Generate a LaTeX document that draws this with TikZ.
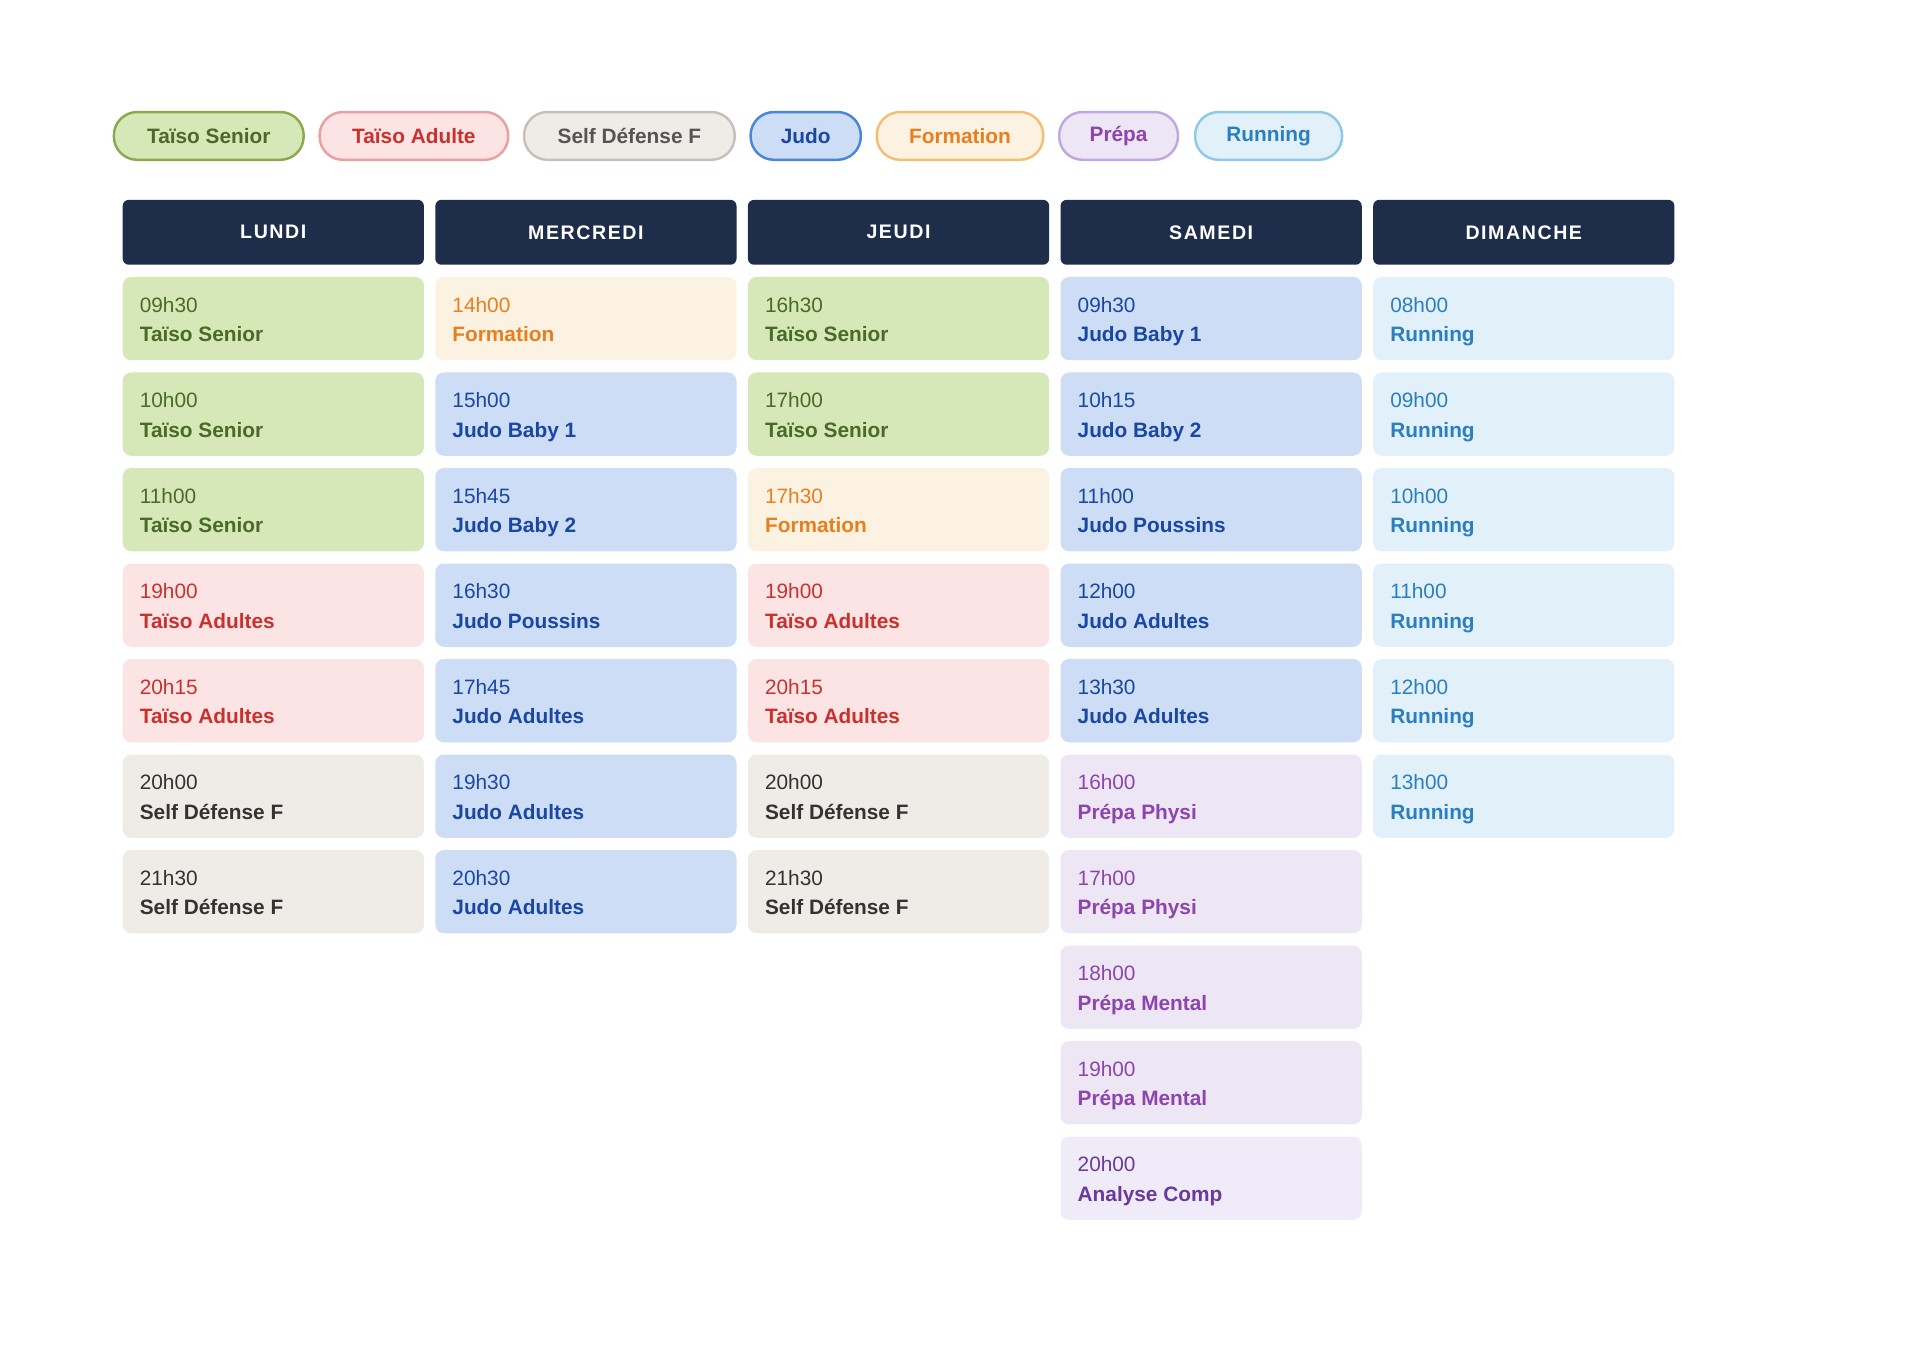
\documentclass[tikz,border=0pt]{standalone}
\usepackage{fontspec}
\setmainfont{Liberation Sans}
\begin{document}
\definecolor{hdr}{HTML}{1E2D4A}
\definecolor{gF}{HTML}{D6E7B8}\definecolor{gT}{HTML}{4B6A2A}\definecolor{gB}{HTML}{8AAA4E}
\definecolor{pF}{HTML}{FCE4E4}\definecolor{pT}{HTML}{C8322E}\definecolor{pB}{HTML}{E8A0A0}
\definecolor{sF}{HTML}{EFECE8}\definecolor{sT}{HTML}{333333}\definecolor{sB}{HTML}{C8C0B8}\definecolor{sL}{HTML}{555555}
\definecolor{bF}{HTML}{CCDDF5}\definecolor{bT}{HTML}{1A47A0}\definecolor{bB}{HTML}{4A86D8}
\definecolor{oF}{HTML}{FCF2E2}\definecolor{oT}{HTML}{E87F1E}\definecolor{oB}{HTML}{F2C070}
\definecolor{vF}{HTML}{ECE6F5}\definecolor{vT}{HTML}{8E44AD}\definecolor{vB}{HTML}{C0A8E0}
\definecolor{aF}{HTML}{EFEBF8}\definecolor{aT}{HTML}{6A3A9A}
\definecolor{lF}{HTML}{E2F0FA}\definecolor{lT}{HTML}{2A7FC0}\definecolor{lB}{HTML}{90C8E8}
\begin{tikzpicture}[x=1pt,y=-1pt,
  pill/.style={draw,line width=2pt,rounded corners=19pt,minimum height=39pt,inner sep=0pt,font=\fontsize{17}{20}\selectfont\bfseries,anchor=west},
  hd/.style={fill=hdr,rounded corners=5pt,minimum width=246pt,minimum height=53pt,inner sep=0pt,text=white,font=\fontsize{16}{19}\selectfont\bfseries,anchor=north west},
  cd/.style={rounded corners=7pt,minimum width=246pt,minimum height=68pt,inner sep=0pt,anchor=north west}]
\useasboundingbox (0,0) rectangle (1568,1108);
% legend
\node[pill,fill=gF,draw=gB,text=gT,minimum width=155pt] (l1) at (92,111) {Taïso Senior};
\node[pill,fill=pF,draw=pB,text=pT,minimum width=154pt] (l2) at (260,111) {Taïso Adulte};
\node[pill,fill=sF,draw=sB,text=sL,minimum width=172pt] (l3) at (427,111) {Self Défense F};
\node[pill,fill=bF,draw=bB,text=bT,minimum width=90pt] (l4) at (612,111) {Judo};
\node[pill,fill=oF,draw=oB,text=oT,minimum width=136pt] (l5) at (715,111) {Formation};
\node[pill,fill=vF,draw=vB,text=vT,minimum width=97pt] (l6) at (864,111) {Prépa};
\node[pill,fill=lF,draw=lB,text=lT,minimum width=120pt] (l7) at (975,111) {Running};
% headers
\newcommand\hx[1]{\pgfmathsetmacro\xx{100+255.3*#1}}
\newcommand\myhead[3]{\hx{#1}\node[hd] (#2) at (\xx,163) {\addfontfeature{LetterSpace=8}#3};}
\myhead{0}{hLun}{LUNDI}
\myhead{1}{hMer}{MERCREDI}
\myhead{2}{hJeu}{JEUDI}
\myhead{3}{hSam}{SAMEDI}
\myhead{4}{hDim}{DIMANCHE}
% cards: col,row,name,fill,text,time,label
\newcommand\mycard[7]{\hx{#1}\pgfmathsetmacro\yy{226+78*#2}%
  \node[cd,fill=#4] (#3) at (\xx,\yy) {};
  \node[anchor=base west,inner sep=0pt,text=#5,font=\fontsize{17}{20}\selectfont] (#3t) at ([xshift=14pt,yshift=-29pt]#3.north west) {#6};
  \node[anchor=base west,inner sep=0pt,text=#5,font=\fontsize{17}{20}\selectfont\bfseries] (#3n) at ([xshift=14pt,yshift=-53pt]#3.north west) {#7};}
\mycard{0}{0}{a0}{gF}{gT}{09h30}{Taïso Senior}
\mycard{0}{1}{a1}{gF}{gT}{10h00}{Taïso Senior}
\mycard{0}{2}{a2}{gF}{gT}{11h00}{Taïso Senior}
\mycard{0}{3}{a3}{pF}{pT}{19h00}{Taïso Adultes}
\mycard{0}{4}{a4}{pF}{pT}{20h15}{Taïso Adultes}
\mycard{0}{5}{a5}{sF}{sT}{20h00}{Self Défense F}
\mycard{0}{6}{a6}{sF}{sT}{21h30}{Self Défense F}
\mycard{1}{0}{b0}{oF}{oT}{14h00}{Formation}
\mycard{1}{1}{b1}{bF}{bT}{15h00}{Judo Baby 1}
\mycard{1}{2}{b2}{bF}{bT}{15h45}{Judo Baby 2}
\mycard{1}{3}{b3}{bF}{bT}{16h30}{Judo Poussins}
\mycard{1}{4}{b4}{bF}{bT}{17h45}{Judo Adultes}
\mycard{1}{5}{b5}{bF}{bT}{19h30}{Judo Adultes}
\mycard{1}{6}{b6}{bF}{bT}{20h30}{Judo Adultes}
\mycard{2}{0}{c0}{gF}{gT}{16h30}{Taïso Senior}
\mycard{2}{1}{c1}{gF}{gT}{17h00}{Taïso Senior}
\mycard{2}{2}{c2}{oF}{oT}{17h30}{Formation}
\mycard{2}{3}{c3}{pF}{pT}{19h00}{Taïso Adultes}
\mycard{2}{4}{c4}{pF}{pT}{20h15}{Taïso Adultes}
\mycard{2}{5}{c5}{sF}{sT}{20h00}{Self Défense F}
\mycard{2}{6}{c6}{sF}{sT}{21h30}{Self Défense F}
\mycard{3}{0}{d0}{bF}{bT}{09h30}{Judo Baby 1}
\mycard{3}{1}{d1}{bF}{bT}{10h15}{Judo Baby 2}
\mycard{3}{2}{d2}{bF}{bT}{11h00}{Judo Poussins}
\mycard{3}{3}{d3}{bF}{bT}{12h00}{Judo Adultes}
\mycard{3}{4}{d4}{bF}{bT}{13h30}{Judo Adultes}
\mycard{3}{5}{d5}{vF}{vT}{16h00}{Prépa Physi}
\mycard{3}{6}{d6}{vF}{vT}{17h00}{Prépa Physi}
\mycard{3}{7}{d7}{vF}{vT}{18h00}{Prépa Mental}
\mycard{3}{8}{d8}{vF}{vT}{19h00}{Prépa Mental}
\mycard{3}{9}{d9}{aF}{aT}{20h00}{Analyse Comp}
\mycard{4}{0}{e0}{lF}{lT}{08h00}{Running}
\mycard{4}{1}{e1}{lF}{lT}{09h00}{Running}
\mycard{4}{2}{e2}{lF}{lT}{10h00}{Running}
\mycard{4}{3}{e3}{lF}{lT}{11h00}{Running}
\mycard{4}{4}{e4}{lF}{lT}{12h00}{Running}
\mycard{4}{5}{e5}{lF}{lT}{13h00}{Running}
\end{tikzpicture}
\end{document}
